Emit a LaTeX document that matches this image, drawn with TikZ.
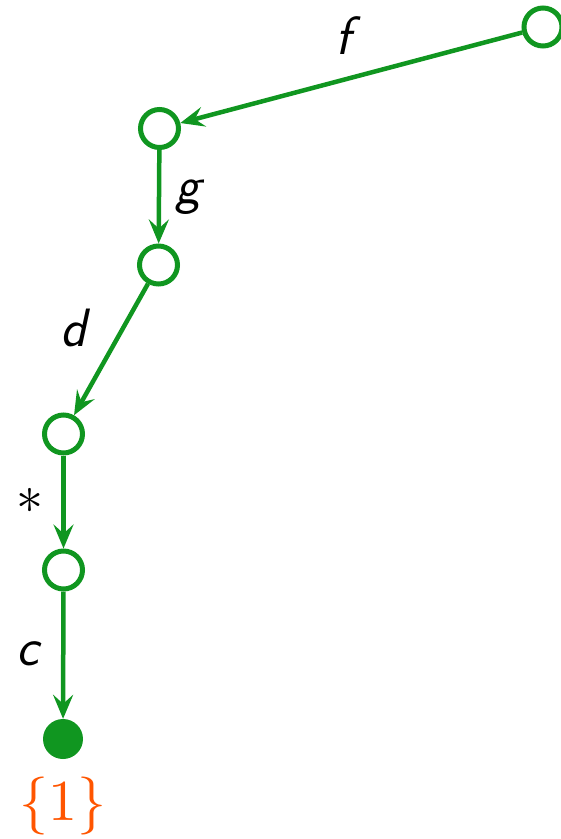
\documentclass[tikz,border=0pt]{standalone}
\usepackage{graphicx}
\usetikzlibrary{arrows.meta}
\definecolor{edgegreen}{RGB}{16,150,32}
\definecolor{setorange}{RGB}{255,85,0}
\tikzset{
  x=1pt,y=-1pt,
  state/.style={circle,draw=edgegreen,line width=5pt,minimum size=38pt,inner sep=0pt,fill=white},
  final/.style={circle,fill=edgegreen,minimum size=40pt,inner sep=0pt},
  edge/.style={draw=edgegreen,line width=4.5pt,-{Stealth[length=24pt,width=20pt,inset=9pt]}},
  lab/.style={font=\fontsize{54}{60}\selectfont\sffamily\itshape,inner sep=0pt},
  setlab/.style={text=setorange,inner sep=0pt}
}
\begin{document}
\begin{tikzpicture}
\useasboundingbox (0,0) rectangle (561,839);
\node[state] (n1) at (543,27) {};
\node[state] (n2) at (159.5,128.5) {};
\node[state] (n3) at (158.5,265) {};
\node[state] (n4) at (63.5,434) {};
\node[state] (n5) at (63.5,570) {};
\node[final] (n6) at (63,739) {};
\draw[edge] (n1) -- (n2);
\draw[edge] (n2) -- (n3);
\draw[edge] (n3) -- (n4);
\draw[edge] (n4) -- (n5);
\draw[edge] (n5) -- (n6);
\node[lab] (lf) at (343,36) {f};
\node[lab] (lg) at (188,197) {g};
\node[lab] (ld) at (74,328) {d};
\node[inner sep=0pt] (ls) at (30,501) {\scalebox{5.4}{$*$}};
\node[lab] (lc) at (28,654) {c};
\node[setlab] (l1) at (63,806) {\scalebox{5.8}{$\{1\}$}};
\end{tikzpicture}
\end{document}
